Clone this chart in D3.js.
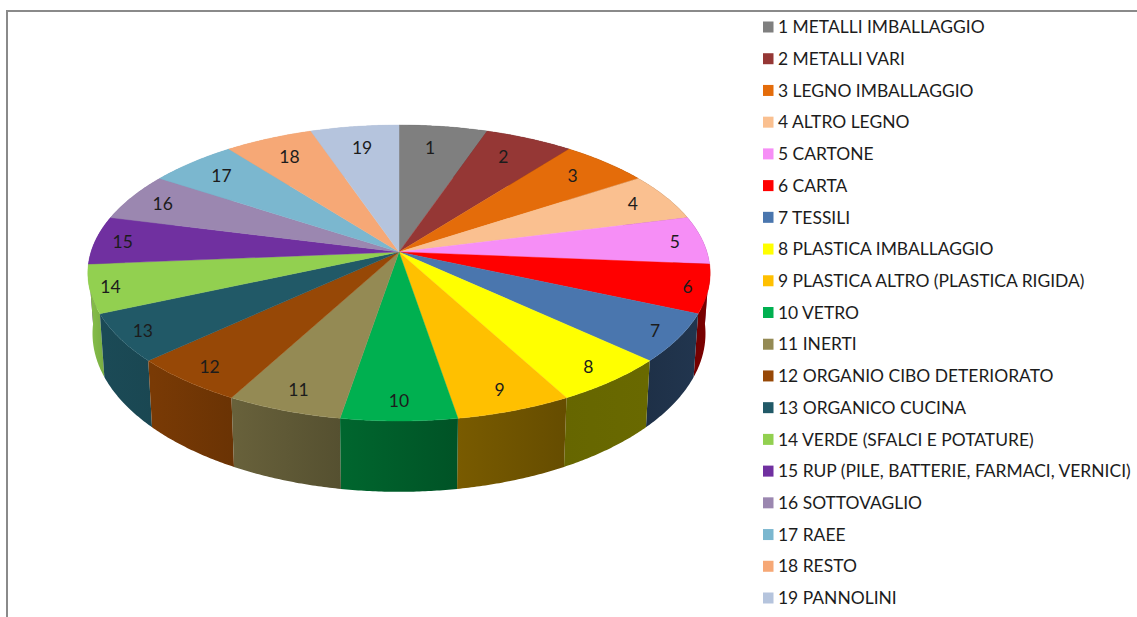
<!DOCTYPE html>
<html><head><meta charset="utf-8">
<script src="https://cdn.jsdelivr.net/npm/d3@7"></script>
<style>html,body{margin:0;padding:0;background:#fff}svg{display:block}text{font-family:Lato,"Noto Sans",sans-serif;fill:#1c1c1c}</style>
</head><body><svg id="c" width="1137" height="617"></svg>
<script>
const categories = ["1 METALLI IMBALLAGGIO","2 METALLI VARI","3 LEGNO IMBALLAGGIO","4 ALTRO LEGNO","5 CARTONE","6 CARTA","7 TESSILI","8 PLASTICA IMBALLAGGIO","9 PLASTICA ALTRO (PLASTICA RIGIDA)","10 VETRO","11 INERTI","12 ORGANIO CIBO DETERIORATO","13 ORGANICO CUCINA","14 VERDE (SFALCI E POTATURE)","15 RUP (PILE, BATTERIE, FARMACI, VERNICI)","16 SOTTOVAGLIO","17 RAEE","18 RESTO","19 PANNOLINI"];
const sliceLabels = ["1","2","3","4","5","6","7","8","9","10","11","12","13","14","15","16","17","18","19"];
const values = [1,1,1,1,1,1,1,1,1,1,1,1,1,1,1,1,1,1,1];
const colors = ["#7f7f7f","#953735","#e46c0a","#fac090","#f68ef6","#ff0000","#4a76ae","#ffff00","#ffc000","#00b050","#948a54","#974806","#215967","#92d050","#7030a0","#9b87b0","#7bb7cf","#f6a876","#b5c4dd"];

const svg = d3.select("#c");
const cx=399, cy=252, A=145, B=308, p=0.142;
const proj=(t,r=1)=>{const s=Math.sin(t),c=Math.cos(t),d=1+p*r*c;return [cx+B*r*s/d, cy-A*r*c/d];};
const low=([x,y])=>[cx+(x-cx)*0.985, cy+59+(y-cy)*1.07];
const shade=d3.scaleLinear().domain([95,133,152,170,190,208,227,246,265,285]).range([.48,.41,.4,.47,.58,.7,.8,.83,.9,.9]).clamp(true);
const labelRadius=d3.scaleLinear().domain([-1,-.95,-.79,-.6,-.24,.08,.4,1]).range([.895,.885,.9,.92,.935,.91,.88,.81]);
const dark=(col,f)=>{const c=d3.rgb(col);return d3.rgb(c.r*f,c.g*f,c.b*f).formatHex();};
const line=d3.line();
const arcs=d3.pie().sort(null).startAngle(0).endAngle(2*Math.PI)(values);
const samples=a=>d3.range(41).map(i=>a.startAngle+(a.endAngle-a.startAngle)*i/40);
const deg=t=>t*180/Math.PI;

// frame
svg.append("path").attr("d",line([[7,617],[7,11],[1137,11]])).attr("fill","none").attr("stroke","#8a8a8a").attr("stroke-width",2);

const defs=svg.append("defs");
const order=arcs.map((a,i)=>({a,i})).sort((u,v)=>Math.abs(deg(v.a.startAngle+v.a.endAngle)/2-180)-Math.abs(deg(u.a.startAngle+u.a.endAngle)/2-180));

// walls
order.forEach(({a,i})=>{
  const top=samples(a).map(t=>proj(t));
  const bot=top.map(low).reverse();
  const xs=[low(proj(a.startAngle))[0],low(proj(a.endAngle))[0]];
  const g=defs.append("linearGradient").attr("id","w"+i).attr("gradientUnits","userSpaceOnUse")
    .attr("x1",xs[0]).attr("x2",xs[1]).attr("y1",0).attr("y2",0);
  g.append("stop").attr("offset",0).attr("stop-color",dark(colors[i],shade(deg(a.startAngle))));
  g.append("stop").attr("offset",1).attr("stop-color",dark(colors[i],shade(deg(a.endAngle))));
  svg.append("path").attr("d",line(top.concat(bot))+"Z").attr("fill",`url(#w${i})`);
});
// tops
arcs.forEach((a,i)=>{
  const pts=[[cx,cy]].concat(samples(a).map(t=>proj(t)));
  svg.append("path").attr("d",line(pts)+"Z").attr("fill",colors[i]).attr("stroke",colors[i]).attr("stroke-width",0.4);
});
// slice labels
arcs.forEach((a,i)=>{
  const t=(a.startAngle+a.endAngle)/2;
  const c=Math.cos(t), s=Math.sin(t);
  const [x,y]=proj(t,labelRadius(c));
  svg.append("text").attr("x",x-(s>0?6*Math.max(c,0):0)).attr("y",y).attr("text-anchor","middle").attr("dominant-baseline","central").attr("font-size",17.5).text(sliceLabels[i]);
});
// legend
const ly=d3.scalePoint().domain(categories).range([27,598]);
const leg=svg.append("g").selectAll("g").data(categories).join("g").attr("transform",d=>`translate(0,${ly(d)})`);
leg.append("rect").attr("x",763).attr("y",-5.5).attr("width",10.5).attr("height",11).attr("fill",(d,i)=>colors[i]);
leg.append("text").attr("x",778).attr("y",-0.3).attr("dominant-baseline","central").attr("font-size",17.45).text(d=>d);
</script></body></html>
